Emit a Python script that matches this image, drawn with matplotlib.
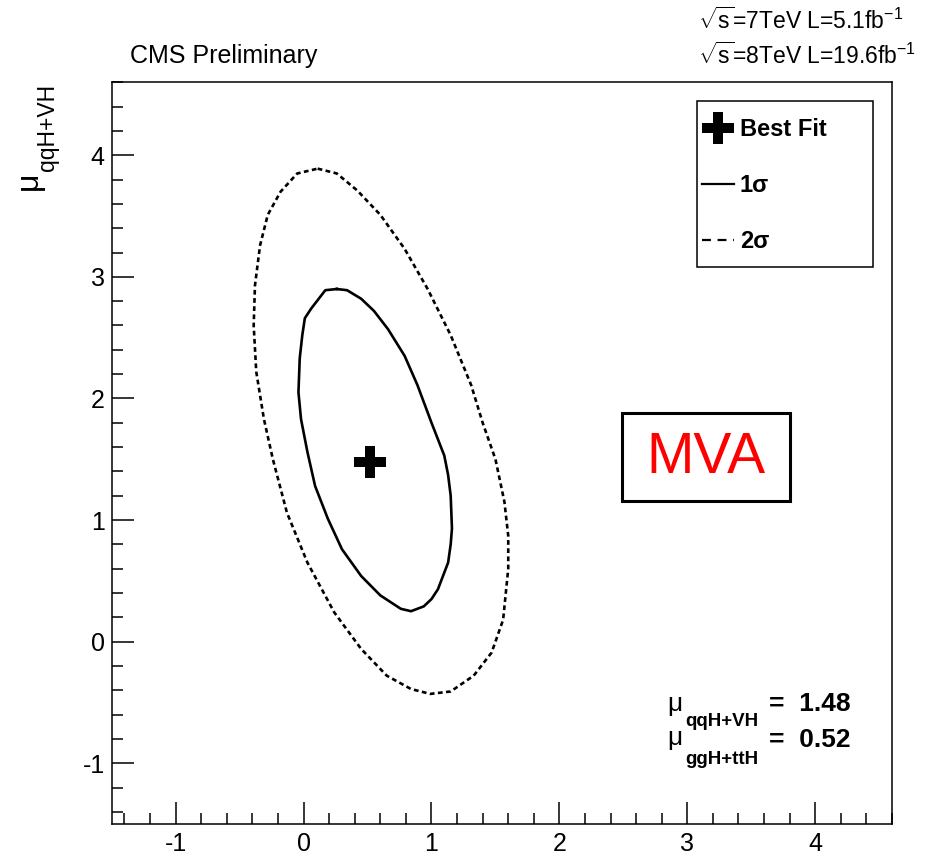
import matplotlib
matplotlib.use("Agg")
import matplotlib.pyplot as plt
from matplotlib.lines import Line2D
from matplotlib.patches import Rectangle
from matplotlib.ticker import MultipleLocator

plt.rcParams["font.family"] = ["Liberation Sans", "DejaVu Sans"]
plt.rcParams["axes.unicode_minus"] = False
plt.rcParams["mathtext.fontset"] = "custom"
plt.rcParams["mathtext.rm"] = "Liberation Sans"
plt.rcParams["mathtext.it"] = "Liberation Sans:italic"
plt.rcParams["mathtext.bf"] = "Liberation Sans:bold"

# best fit signal strengths
best_fit_ggh = 0.52
best_fit_qqh = 1.48

# 68% CL contour (mu_ggH+ttH, mu_qqH+VH)
sig1_ggh = [0.26, 0.34, 0.45, 0.55, 0.66, 0.79, 0.89, 1.00, 1.10, 1.13,
            1.15, 1.16, 1.15, 1.13, 1.05, 1.00, 0.94, 0.84, 0.76, 0.60,
            0.45, 0.30, 0.19, 0.09, 0.03, -0.02, -0.04, -0.03, -0.01, 0.01,
            0.06, 0.17]
sig1_qqh = [2.90, 2.89, 2.82, 2.72, 2.57, 2.35, 2.11, 1.80, 1.53, 1.37,
            1.20, 0.93, 0.80, 0.65, 0.43, 0.35, 0.29, 0.25, 0.27, 0.38,
            0.54, 0.76, 1.01, 1.28, 1.56, 1.83, 2.05, 2.33, 2.52, 2.66,
            2.74, 2.89]

# 95% CL contour
sig2_ggh = [0.11, 0.26, 0.42, 0.60, 0.79, 0.97, 1.15, 1.31, 1.40, 1.50,
            1.57, 1.60, 1.60, 1.56, 1.47, 1.33, 1.15, 0.99, 0.84, 0.65,
            0.45, 0.24, 0.03, -0.13, -0.24, -0.31, -0.37, -0.39, -0.38,
            -0.34, -0.28, -0.18, -0.05]
sig2_qqh = [3.89, 3.85, 3.71, 3.51, 3.23, 2.90, 2.52, 2.11, 1.80, 1.50,
            1.15, 0.87, 0.60, 0.18, -0.09, -0.28, -0.41, -0.43, -0.39, -0.28,
            -0.06, 0.24, 0.65, 1.06, 1.50, 1.83, 2.22, 2.60, 2.93,
            3.26, 3.51, 3.70, 3.85]

x_range = (-1.5, 4.6)
y_range = (-1.5, 4.6)

W, H = 929, 857


def fx(px):
    return px / W


def fy(py):
    return 1 - py / H


fig = plt.figure(figsize=(W / 100, H / 100), dpi=100)
ax = fig.add_axes([fx(111.7), fy(824), (892 - 111.7) / W, (824 - 82.3) / H])

ax.plot(sig1_ggh + sig1_ggh[:1], sig1_qqh + sig1_qqh[:1],
        color="black", lw=1.9, solid_joinstyle="round")
ax.plot(sig2_ggh + sig2_ggh[:1], sig2_qqh + sig2_qqh[:1],
        color="black", lw=1.9, linestyle=(0, (1.8, 1.3)))
ax.plot([best_fit_ggh], [best_fit_qqh], marker="P", ms=23,
        color="black", mew=0, linestyle="none")

ax.set_xlim(*x_range)
ax.set_ylim(*y_range)
ax.xaxis.set_major_locator(MultipleLocator(1))
ax.xaxis.set_minor_locator(MultipleLocator(0.2))
ax.yaxis.set_major_locator(MultipleLocator(1))
ax.yaxis.set_minor_locator(MultipleLocator(0.2))
ax.tick_params(which="both", direction="in", top=False, right=False,
               width=1.1, labelsize=18)
ax.tick_params(which="major", length=16)
ax.tick_params(which="minor", length=8)
ax.tick_params(axis="x", pad=6)
ax.tick_params(axis="y", pad=5)
for sp in ax.spines.values():
    sp.set_linewidth(1.1)

# y axis title
fig.text(fx(29), fy(181), "\u03bc", rotation=90, ha="center", va="center",
         fontsize=23)
fig.text(fx(47), fy(171), "qqH+VH", rotation=90, ha="center", va="bottom",
         fontsize=16.5)

fig.text(fx(130), fy(56), "CMS Preliminary", ha="left", va="center",
         fontsize=18)
fig.text(fx(698), fy(21),
         r"$\sqrt{\mathrm{s}}$=7TeV L=5.1fb$^{\mathrm{-1}}$",
         ha="left", va="center", fontsize=16.5)
fig.text(fx(698), fy(56),
         r"$\sqrt{\mathrm{s}}$=8TeV L=19.6fb$^{\mathrm{-1}}$",
         ha="left", va="center", fontsize=16.5)

# legend box
fig.patches.append(Rectangle((fx(697), fy(267)), (872.7 - 697) / W,
                             (267 - 100.7) / H, transform=fig.transFigure,
                             facecolor="white", edgecolor="black", lw=1.1,
                             zorder=5))
fig.add_artist(Line2D([fx(718)], [fy(128)], marker="P", ms=23, mew=0,
                      color="black", linestyle="none", zorder=6))
fig.add_artist(Line2D([fx(702), fx(734)], [fy(184), fy(184)], lw=1.6,
                      color="black", zorder=6))
fig.add_artist(Line2D([fx(702), fx(734)], [fy(240), fy(240)], lw=1.6,
                      color="black", linestyle=(0, (4, 3)), zorder=6))
fig.text(fx(740), fy(129), "Best Fit", ha="left", va="center",
         fontsize=17, fontweight="bold", zorder=7)
fig.text(fx(740), fy(186), "1\u03c3", ha="left", va="center",
         fontsize=17, fontweight="bold", zorder=7)
fig.text(fx(740), fy(241), "2\u03c3", ha="left", va="center",
         fontsize=17, fontweight="bold", zorder=7)

# analysis tag
fig.patches.append(Rectangle((fx(622.3), fy(500.7)), (790 - 622.3) / W,
                             (500.7 - 413.3) / H, transform=fig.transFigure,
                             facecolor="white", edgecolor="black", lw=2.2,
                             zorder=5))
fig.text(fx(706), fy(458), "MVA", ha="center", va="center", fontsize=41,
         color="#ff0000", zorder=7)

# best fit values
fig.text(fx(675), fy(704), "\u03bc", ha="center", va="center", fontsize=19)
fig.text(fx(685), fy(722), "qqH+VH", ha="left", va="center", fontsize=13.5,
         fontweight="bold")
fig.text(fx(769), fy(704), f"=  {best_fit_qqh:.2f}", ha="left",
         va="center", fontsize=19, fontweight="bold")
fig.text(fx(675), fy(738), "\u03bc", ha="center", va="center", fontsize=19)
fig.text(fx(685), fy(759), "ggH+ttH", ha="left", va="center", fontsize=13.5,
         fontweight="bold")
fig.text(fx(769), fy(740), f"=  {best_fit_ggh:.2f}", ha="left",
         va="center", fontsize=19, fontweight="bold")

fig.savefig("out.png", dpi=100)
